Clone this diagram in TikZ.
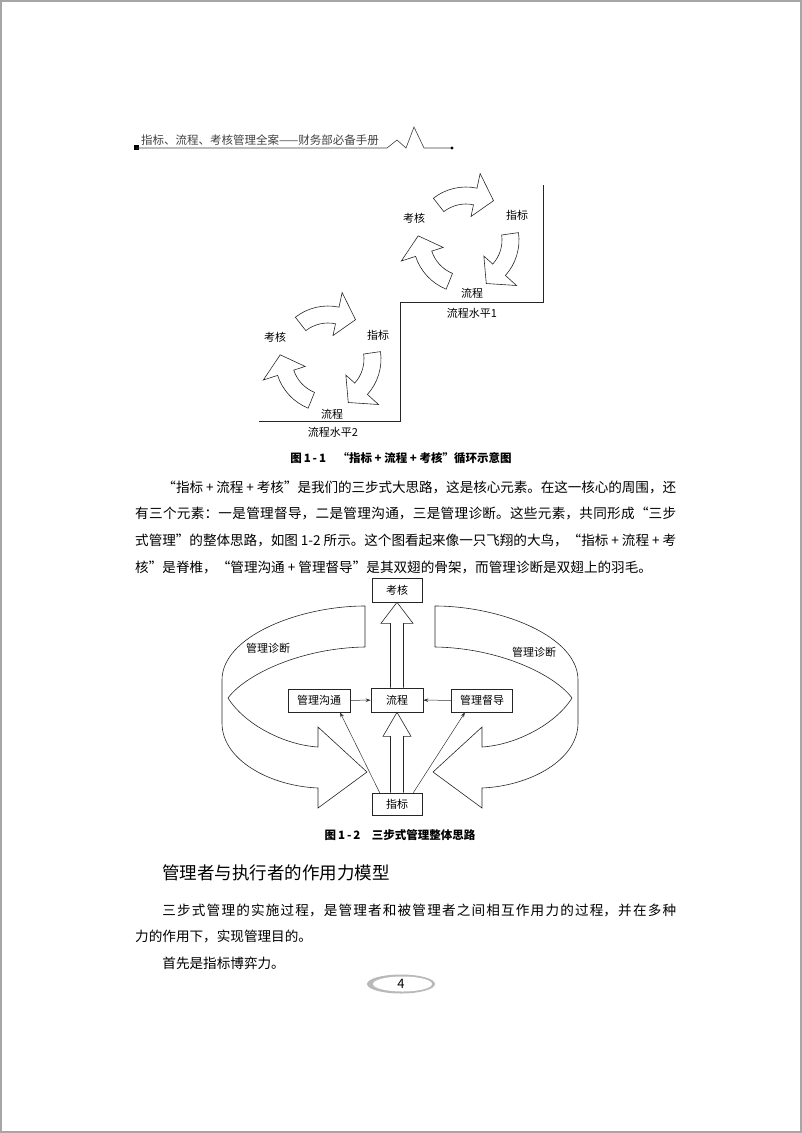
\documentclass[tikz,border=0pt]{standalone}
\usepackage{fontspec}
\setmainfont{Noto Sans CJK SC}
\usepackage{tikz}
\usetikzlibrary{calc,arrows.meta}
\XeTeXlinebreaklocale "zh"
\XeTeXlinebreakskip=0pt plus 2pt minus 0.6pt
\tikzset{
    fig line/.style={black!85, line width=0.6pt},
    fig label/.style={font=\fontsize{11}{11}\selectfont, inner sep=0pt},
    fig box/.style={draw, black!85, line width=0.6pt, text=black, font=\fontsize{11}{11}\selectfont, minimum height=23pt, inner sep=0pt},
    thin arrow/.style={black!80, line width=0.5pt, -{Stealth[length=5pt,width=3.5pt]}},
    caption text/.style={font=\bfseries\fontsize{11.5}{11.5}\selectfont, inner sep=0pt},
    body text/.style={anchor=base west, inner sep=0pt, text width=541pt, align=justify, font=\fontsize{13.6}{26.7}\selectfont},
}
% curved block arrow of the cycle: centre, start angle (runs clockwise)
\newcommand{\cyclearrow}[2]{%
    \draw[fig line, shift={(#1)}] (#2:53) arc[start angle=#2, end angle=#2-50, radius=53]
        -- (#2-50:68) -- (#2-73:48) -- (#2-50:24) -- (#2-50:36)
        arc[start angle=#2-50, end angle=#2, radius=36] -- cycle;
}

\begin{document}
\begin{tikzpicture}[x=1pt,y=1pt]
\useasboundingbox (0,0) rectangle (802,-1133);
\draw[gray!70, line width=2pt] (1,-1) rectangle (801,-1132);

% running head
\fill (133.5,-150) rectangle (138.5,-145);
\node[anchor=west, inner sep=0pt, text=black!75, font=\fontsize{11.5}{11.5}\selectfont] (runhead) at (141,-140.5) {指标、流程、考核管理全案——财务部必备手册};
\draw[black!75, line width=0.6pt] (136,-148) -- (387,-148) -- (397,-140) -- (406,-148) -- (414,-127) -- (424,-148) -- (452,-148);
\fill (452,-148) circle (1.6);

% figure 1-1
\draw[fig line] (543,-185) -- (543,-302) -- (400,-302) -- (400,-421) -- (259,-421);
\cyclearrow{466,-240}{128}
\cyclearrow{466,-240}{8}
\cyclearrow{466,-240}{248}
\node[fig label] (kaohe1) at (414,-218) {考核};
\node[fig label] (zhibiao1) at (517,-215) {指标};
\node[fig label] (liucheng1) at (472,-293) {流程};
\node[fig label] (level1) at (472,-313) {流程水平1};
\cyclearrow{328,-359}{128}
\cyclearrow{328,-359}{8}
\cyclearrow{328,-359}{248}
\node[fig label] (kaohe2) at (275,-337) {考核};
\node[fig label] (zhibiao2) at (378,-335) {指标};
\node[fig label] (liucheng2) at (332,-414) {流程};
\node[fig label] (level2) at (333,-432) {流程水平2};
\node[caption text] (cap1) at (401,-458) {图\,1\,-\,1\quad “指标 + 流程 + 考核”循环示意图};

\node[body text] (para1) at (135,-492) {\hspace*{2em}“指标 + 流程 + 考核”是我们的三步式大思路，这是核心元素。在这一核心的周围，还\linebreak 有三个元素：一是管理督导，二是管理沟通，三是管理诊断。这些元素，共同形成“三步\linebreak 式管理”的整体思路，如图 1-2 所示。这个图看起来像一只飞翔的大鸟，“指标 + 流程 + 考\linebreak 核”是脊椎，“管理沟通 + 管理督导”是其双翅的骨架，而管理诊断是双翅上的羽毛。};

% figure 1-2
\node[fig box, minimum width=50pt, minimum height=24pt] (kaohe) at (397,-590) {考核};
\node[fig box, minimum width=52pt, minimum height=24pt] (liucheng) at (397,-700) {流程};
\node[fig box, minimum width=62pt] (goutong) at (319,-700.5) {管理沟通};
\node[fig box, minimum width=61pt] (dudao) at (482,-700.5) {管理督导};
\node[fig box, minimum width=50pt, minimum height=22pt] (zhibiao) at (397,-804) {指标};

\draw[fig line] ($(liucheng.north)+(-6.5,0)$) -- ($(kaohe.south)+(-6.5,-21)$) -- ($(kaohe.south)+(-16,-21)$)
    -- (kaohe.south) -- ($(kaohe.south)+(16,-21)$) -- ($(kaohe.south)+(6.5,-21)$) -- ($(liucheng.north)+(6.5,0)$);
\draw[fig line] ($(zhibiao.north)+(-6.5,0)$) -- ($(liucheng.south)+(-6.5,-24)$) -- ($(liucheng.south)+(-14,-24)$)
    -- (liucheng.south) -- ($(liucheng.south)+(14,-24)$) -- ($(liucheng.south)+(6.5,-24)$) -- ($(zhibiao.north)+(6.5,0)$);
\draw[thin arrow] (goutong) -- (liucheng);
\draw[thin arrow] (dudao) -- (liucheng);
\draw[thin arrow] ($(zhibiao.north west)+(8,0)$) -- ($(goutong.south)+(21,0)$);
\draw[thin arrow] ($(zhibiao.north east)+(-9,0)$) -- ($(dudao.south)+(-17,0)$);

% the two wings
\foreach \side in {1,-1}{
\begin{scope}[xshift={400-400*\side}, xscale=\side]
\draw[fig line] (365,-647) -- (365,-606)
    .. controls (300,-606) and (222,-636) .. (222,-680)
    -- (222,-723)
    .. controls (222,-760) and (270,-786) .. (318,-788)
    -- (318,-808) -- (367,-772) -- (318,-727) -- (318,-747)
    .. controls (285,-745) and (245,-725) .. (228,-698)
    .. controls (245,-675) and (300,-648) .. (365,-647);
\end{scope}
}
\node[fig label] (zhenduan1) at (268,-648) {管理诊断};
\node[fig label] (zhenduan2) at (534,-652) {管理诊断};
\node[caption text] (cap2) at (400,-835) {图\,1\,-\,2\quad 三步式管理整体思路};

\node[anchor=west, inner sep=0pt, font=\fontsize{17.5}{17.5}\selectfont] (heading) at (162,-873) {管理者与执行者的作用力模型};
\node[body text] (para2) at (135,-915) {\hspace*{2em}三步式管理的实施过程，是管理者和被管理者之间相互作用力的过程，并在多种\linebreak 力的作用下，实现管理目的。\par\hspace*{2em}首先是指标博弈力。};

% page number
\fill[gray!55] (401,-984) ellipse[x radius=34, y radius=9.5];
\fill[white] (402.5,-984) ellipse[x radius=29.5, y radius=7.5];
\node[inner sep=0pt, font=\fontsize{13}{13}\selectfont] (pagenum) at (401,-984) {4};
\end{tikzpicture}
\end{document}
